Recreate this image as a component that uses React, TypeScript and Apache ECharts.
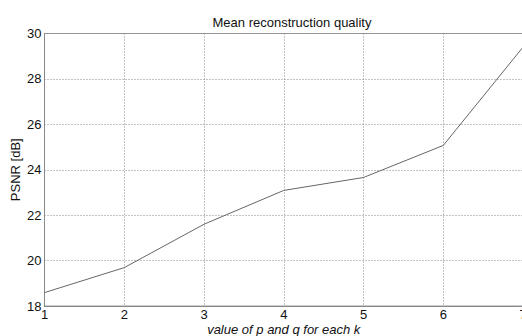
import React, { useEffect, useRef } from "react";
import * as echarts from "echarts";

const kValues = [1, 2, 3, 4, 5, 6, 7];
const psnr = [18.59, 19.69, 21.6, 23.09, 23.66, 25.07, 29.4];
const titleText = "Mean reconstruction quality";
const xName = "value of p and q for each k";
const yName = "PSNR [dB]";

export default function App() {
  const ref = useRef<HTMLDivElement>(null);
  useEffect(() => {
    const chart = echarts.init(ref.current!, null, { renderer: "svg" });
    const font = "'Liberation Sans', Arial, sans-serif";
    chart.setOption({
      animation: false,
      backgroundColor: "#ffffff",
      title: {
        text: titleText,
        left: 287,
        textAlign: "center",
        top: 11,
        textStyle: { fontFamily: font, fontSize: 13, fontWeight: "normal", color: "#111" },
      },
      grid: {
        left: 44.5,
        right: -1,
        top: 33.5,
        bottom: 30,
        outerBoundsMode: "none",
        containLabel: false,
        show: true,
        borderColor: "#999",
        borderWidth: 1,
        backgroundColor: "transparent",
      },
      xAxis: {
        type: "value",
        min: 1,
        max: 7,
        interval: 1,
        name: xName,
        nameLocation: "middle",
        nameGap: 17,
        nameMoveOverlap: false,
        nameTextStyle: { fontFamily: font, fontSize: 13, fontStyle: "italic", color: "#111" },
        axisLine: { show: true, lineStyle: { color: "#888", width: 1 } },
        axisTick: { show: false },
        axisLabel: { fontFamily: font, fontSize: 13, color: "#111", margin: 2 },
        splitLine: { show: true, lineStyle: { type: [1, 2], color: "#888", width: 1 } },
      },
      yAxis: {
        type: "value",
        min: 18,
        max: 30,
        interval: 2,
        name: yName,
        nameLocation: "middle",
        nameGap: 23,
        nameMoveOverlap: false,
        nameTextStyle: { fontFamily: font, fontSize: 13, color: "#111" },
        axisLine: { show: true, lineStyle: { color: "#888", width: 1 } },
        axisTick: { show: false },
        axisLabel: { fontFamily: font, fontSize: 13, color: "#111", margin: 3 },
        splitLine: { show: true, lineStyle: { type: [1, 2], color: "#888", width: 1 } },
      },
      series: [
        {
          type: "line",
          data: kValues.map((k, i) => [k, psnr[i]]),
          showSymbol: false,
          lineStyle: { color: "#666", width: 1 },
        },
      ],
    });
    return () => chart.dispose();
  }, []);
  return (
    <div
      ref={ref}
      style={{ position: "fixed", left: 0, top: 0, width: 522, height: 336 }}
    />
  );
}
